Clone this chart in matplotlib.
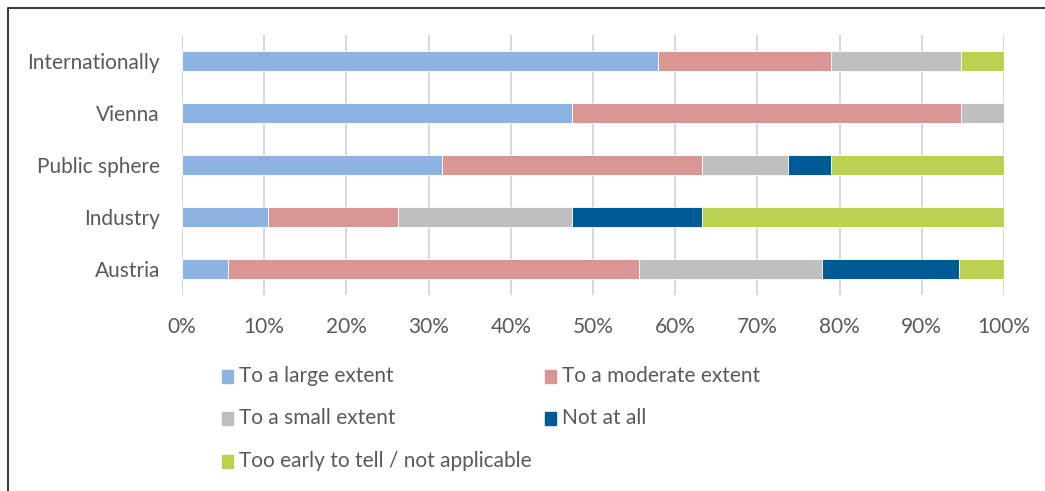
import matplotlib
matplotlib.use("Agg")
import matplotlib.pyplot as plt
from matplotlib.patches import Rectangle
from matplotlib.lines import Line2D
import numpy as np

plt.rcParams["font.family"] = ["Lato", "DejaVu Sans"]

# bottom-to-top order on the chart
categories = ["Austria", "Industry", "Public sphere", "Vienna", "Internationally"]
series = ["To a large extent", "To a moderate extent", "To a small extent",
          "Not at all", "Too early to tell / not applicable"]
colors = ["#8DB3E2", "#D99694", "#BFBFBF", "#005A96", "#BBD152"]

# share of answers in %, one list per answer option
large    = [5.6, 10.5, 31.6, 47.4, 57.9]
moderate = [50.0, 15.8, 31.6, 47.4, 21.1]
small    = [22.2, 21.1, 10.5, 5.3, 15.8]
not_all  = [16.7, 15.8, 5.3, 0.0, 0.0]
too_early = [5.6, 36.8, 21.1, 0.0, 5.3]
values = [large, moderate, small, not_all, too_early]

ticks = np.arange(0, 101, 10)
tick_labels = [f"{t}%" for t in ticks]

W, H = 1045, 491
fig = plt.figure(figsize=(W / 100, H / 100), dpi=100)
ax = fig.add_axes([182 / W, 1 - 295 / H, 822 / W, 260 / H])

text_col = "#595959"
fs = 15
y = np.arange(len(categories))
left = np.zeros(len(categories))
for vals, col in zip(values, colors):
    ax.barh(y, vals, left=left, height=0.4, color=col,
            edgecolor="white", linewidth=0.6, zorder=3)
    left += np.array(vals)

ax.set_xlim(0, 100)
ax.set_ylim(-0.5, len(categories) - 0.5)
ax.set_xticks(ticks)
ax.set_xticklabels(tick_labels)
ax.set_yticks(y)
ax.set_yticklabels(categories)
ax.tick_params(axis="both", length=0, labelsize=fs, colors=text_col)
ax.tick_params(axis="x", pad=16)
ax.tick_params(axis="y", pad=15.8)
ax.grid(axis="x", color="#D9D9D9", linewidth=1.5, zorder=0)
for s in ax.spines.values():
    s.set_visible(False)

# legend laid out in rows of two
col_x = [222, 545]
row_y = [376, 418, 461]
for i, (name, col) in enumerate(zip(series, colors)):
    cx = col_x[i % 2]
    cy = row_y[i // 2]
    fig.patches.append(Rectangle((cx / W, 1 - (cy + 6.5) / H), 11 / W, 13 / H,
                                 transform=fig.transFigure, color=col))
    fig.text((cx + 17) / W, 1 - cy / H, name, fontsize=fs, color=text_col,
             va="center", ha="left")

# frame around the figure panel
fig.lines.append(Line2D([8 / W, 8 / W, 1], [0, 1 - 8 / H, 1 - 8 / H],
                        transform=fig.transFigure, color="#3C3C3C", linewidth=1.5))

fig.savefig("out.png", dpi=100)
